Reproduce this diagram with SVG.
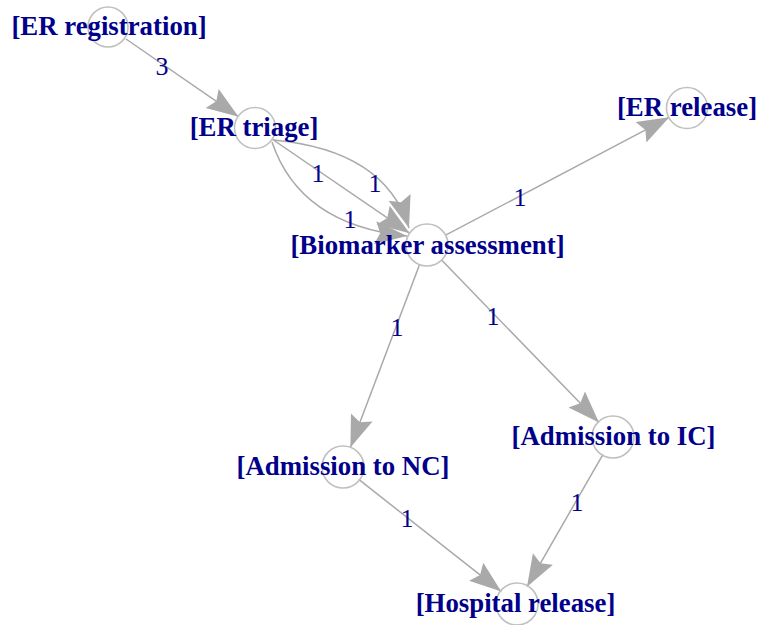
<svg xmlns="http://www.w3.org/2000/svg" width="757" height="625" viewBox="0 0 757 625">
<style>
.node circle{fill:none;stroke:#C0C0C0;stroke-width:1.6}
.node text{font-family:"Liberation Serif",serif;font-weight:bold;font-size:26.8px;fill:#00008B;text-anchor:middle}
.edge{fill:none;stroke:#A9A9A9;stroke-width:1.5;marker-end:url(#arr)}
.elabel{font-family:"Liberation Serif",serif;font-size:26px;fill:#00008B;text-anchor:middle}
</style>
<defs>
<marker id="arr" markerUnits="userSpaceOnUse" orient="auto" markerWidth="40" markerHeight="40" refX="0" refY="0" viewBox="-35 -20 40 40" overflow="visible">
<path d="M0,0 L-32,-11.5 L-27,0 L-32,11.5 Z" fill="#A9A9A9"/>
</marker>
</defs>
<rect width="757" height="625" fill="#FFFFFF"/>
<g id="connectors">
<path class="edge" d="M126,39 L238.5,116.7"/>
<path class="edge" d="M272,139 L409.6,233.2"/>
<path class="edge" d="M273,140 Q385,150 409,228"/>
<path class="edge" d="M272,142 Q300,225 407,236"/>
<path class="edge" d="M445.6,235.2 L669.3,117.3"/>
<path class="edge" d="M419.6,264.6 L350.4,447.4"/>
<path class="edge" d="M441.6,260.1 L599,422.6"/>
<path class="edge" d="M358.7,479.4 L501.3,591.6"/>
<path class="edge" d="M603,454.3 L527,586.7"/>
<text class="elabel" x="162" y="75">3</text>
<text class="elabel" x="318" y="182">1</text>
<text class="elabel" x="375" y="192">1</text>
<text class="elabel" x="350" y="228">1</text>
<text class="elabel" x="520" y="206">1</text>
<text class="elabel" x="397" y="336">1</text>
<text class="elabel" x="493" y="325">1</text>
<text class="elabel" x="407" y="527">1</text>
<text class="elabel" x="577" y="511">1</text>
</g>
<g id="er_registration" class="node"><circle cx="108" cy="27" r="20"/><text x="109" y="35">[ER registration]</text></g>
<g id="er_triage" class="node"><circle cx="255" cy="128" r="20.5"/><text x="254" y="136">[ER triage]</text></g>
<g id="biomarker_assessment" class="node"><circle cx="427" cy="245" r="21"/><text x="427.5" y="254">[Biomarker assessment]</text></g>
<g id="er_release" class="node"><circle cx="687" cy="108" r="20.5"/><text x="687" y="116">[ER release]</text></g>
<g id="admission_nc" class="node"><circle cx="343" cy="467" r="21"/><text x="343" y="475">[Admission to NC]</text></g>
<g id="admission_ic" class="node"><circle cx="613" cy="437" r="21"/><text x="613.5" y="445">[Admission to IC]</text></g>
<g id="hospital_release" class="node"><circle cx="517" cy="604" r="21"/><text x="515.5" y="612">[Hospital release]</text></g>
</svg>
